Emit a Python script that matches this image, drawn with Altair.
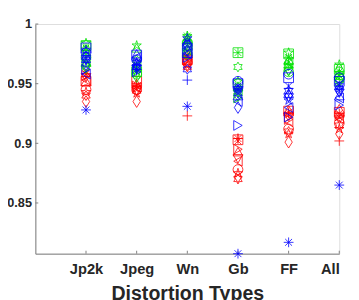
import math
import altair as alt
import pandas as pd

categories = ["Jp2k", "Jpeg", "Wn", "Gb", "FF", "All"]
markers = ["o", "+", "*", "x", "s", "d", "^", "v", ">", "<", "p", "h"]
colors = ["red", "green", "blue"]

# values per marker (rows) for the six categories (columns)
red_vals = [
    [0.945, 0.945, 0.968, 0.878, 0.912, 0.917],
    [0.956, 0.950, 0.923, 0.904, 0.925, 0.902],
    [0.958, 0.948, 0.972, 0.904, 0.926, 0.925],
    [0.960, 0.946, 0.974, 0.902, 0.924, 0.922],
    [0.952, 0.952, 0.970, 0.903, 0.927, 0.926],
    [0.935, 0.935, 0.966, 0.872, 0.901, 0.908],
    [0.952, 0.950, 0.975, 0.893, 0.928, 0.929],
    [0.955, 0.944, 0.967, 0.887, 0.922, 0.920],
    [0.957, 0.948, 0.970, 0.895, 0.920, 0.923],
    [0.953, 0.947, 0.972, 0.885, 0.918, 0.921],
    [0.943, 0.942, 0.966, 0.875, 0.908, 0.912],
    [0.940, 0.944, 0.964, 0.870, 0.910, 0.915],
]
green_vals = [
    [0.972, 0.958, 0.975, 0.950, 0.960, 0.955],
    [0.978, 0.962, 0.984, 0.944, 0.966, 0.958],
    [0.980, 0.960, 0.990, 0.976, 0.972, 0.960],
    [0.975, 0.965, 0.986, 0.946, 0.968, 0.957],
    [0.982, 0.960, 0.982, 0.976, 0.975, 0.962],
    [0.965, 0.956, 0.978, 0.940, 0.962, 0.953],
    [0.968, 0.980, 0.988, 0.948, 0.970, 0.964],
    [0.962, 0.958, 0.980, 0.942, 0.960, 0.950],
    [0.966, 0.962, 0.976, 0.938, 0.964, 0.952],
    [0.970, 0.965, 0.978, 0.944, 0.968, 0.955],
    [0.984, 0.982, 0.990, 0.952, 0.976, 0.966],
    [0.976, 0.970, 0.985, 0.964, 0.965, 0.958],
]
blue_vals = [
    [0.976, 0.970, 0.982, 0.952, 0.958, 0.955],
    [0.968, 0.965, 0.953, 0.945, 0.946, 0.945],
    [0.928, 0.962, 0.931, 0.8075, 0.817, 0.865],
    [0.972, 0.968, 0.985, 0.948, 0.948, 0.950],
    [0.980, 0.974, 0.976, 0.950, 0.955, 0.952],
    [0.966, 0.966, 0.978, 0.930, 0.940, 0.944],
    [0.974, 0.975, 0.985, 0.940, 0.942, 0.940],
    [0.970, 0.962, 0.980, 0.944, 0.938, 0.942],
    [0.962, 0.960, 0.972, 0.915, 0.922, 0.932],
    [0.958, 0.972, 0.975, 0.935, 0.930, 0.938],
    [0.978, 0.968, 0.988, 0.946, 0.936, 0.946],
    [0.970, 0.964, 0.962, 0.942, 0.944, 0.948],
]
y_ticks = [0.85, 0.9, 0.95, 1.0]


def star_path(n, r_in):
    pts = []
    for k in range(2 * n):
        r = 1.0 if k % 2 == 0 else r_in
        a = -math.pi / 2 + k * math.pi / n
        pts.append(f"{r * math.cos(a):.3f},{r * math.sin(a):.3f}")
    return "M" + "L".join(pts) + "Z"


shape_paths = {
    "o": "circle",
    "+": "M-1,0L1,0M0,-1L0,1",
    "*": "M-1,0L1,0M0,-1L0,1M-0.7,-0.7L0.7,0.7M-0.7,0.7L0.7,-0.7",
    "x": "M-0.7,-0.7L0.7,0.7M-0.7,0.7L0.7,-0.7",
    "s": "square",
    "d": "M0,-1.2L0.75,0L0,1.2L-0.75,0Z",
    "^": "triangle-up",
    "v": "triangle-down",
    ">": "triangle-right",
    "<": "triangle-left",
    "p": star_path(5, 0.382),
    "h": star_path(6, 0.577),
}

rows = []
for cname, vals in zip(colors, [red_vals, green_vals, blue_vals]):
    for m, row in zip(markers, vals):
        for i, v in enumerate(row):
            rows.append({"pos": i + 1, "v": v, "col": cname, "mk": m})
df = pd.DataFrame(rows)

ydom = [0.8075, 1.0]
xdom = [0, 6]
label_expr = "[" + ",".join(f"'{c}'" for c in categories) + "][datum.value - 1]"

points = alt.Chart(df).mark_point(filled=False, strokeWidth=0.8, size=100, opacity=1).encode(
    x=alt.X("pos:Q", scale=alt.Scale(domain=xdom, nice=False, zero=False),
            axis=alt.Axis(values=[1, 2, 3, 4, 5, 6], labelExpr=label_expr, title="Distortion Types",
                          ticks=False, grid=False, domainColor="#808080", labelFontSize=15,
                          labelFontWeight="bold", labelColor="#262626", labelPadding=8,
                          titleFontSize=20, titleFontWeight="bold", titleColor="#262626",
                          titlePadding=8, labelFont="Liberation Sans", titleFont="Liberation Sans")),
    y=alt.Y("v:Q", scale=alt.Scale(domain=ydom, nice=False, zero=False),
            axis=alt.Axis(values=y_ticks, format=".2~f", title=None, ticks=False, grid=False,
                          domainColor="#808080", labelFontSize=13, labelFontWeight="bold",
                          labelColor="#262626", labelPadding=4, labelFont="Liberation Sans")),
    color=alt.Color("col:N", scale=alt.Scale(domain=colors, range=["#ff0000", "#00e000", "#0000ff"]), legend=None),
    shape=alt.Shape("mk:N", scale=alt.Scale(domain=markers, range=[shape_paths[m] for m in markers]), legend=None),
    order=alt.Order("idx:Q"),
).transform_calculate(idx="datum.col == 'red' ? 0 : datum.col == 'green' ? 1 : 2")

ytick_df = pd.DataFrame({"v": y_ticks})
yticks = alt.Chart(ytick_df).mark_rule(color="#808080", strokeWidth=1).encode(
    y=alt.Y("v:Q", scale=alt.Scale(domain=ydom, nice=False, zero=False)),
    x=alt.value(0), x2=alt.value(3),
)
xtick_df = pd.DataFrame({"pos": [1, 2, 3, 4, 5, 6]})
xticks = alt.Chart(xtick_df).mark_rule(color="#808080", strokeWidth=1).encode(
    x=alt.X("pos:Q", scale=alt.Scale(domain=xdom, nice=False, zero=False)),
    y=alt.value(235), y2=alt.value(232),
)

chart = alt.layer(yticks, xticks, points).properties(
    width=311, height=235,
    autosize=alt.AutoSizeParams(type="none"),
    padding={"left": 28, "top": 13, "right": 12, "bottom": 44},
).configure_view(stroke=None).configure(background="white")

chart.save("out.html", embed_options={"renderer": "svg", "actions": False})
